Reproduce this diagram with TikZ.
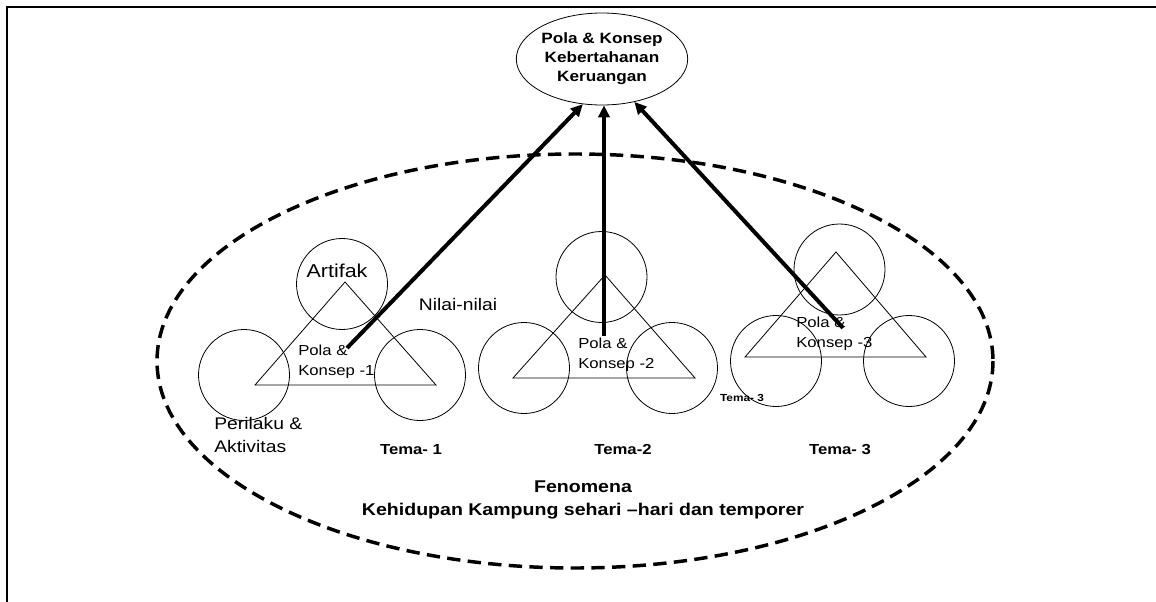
\documentclass[tikz,border=0pt]{standalone}
\usepackage{fontspec}
\setmainfont{Liberation Sans}[FakeStretch=1.15]
\usetikzlibrary{arrows.meta,shapes.geometric,positioning}

\tikzset{
  ring/.style={draw,circle,line width=0.6pt,minimum size=68.25pt,inner sep=0pt},
  tri/.style={draw,line width=0.6pt},
  lbl/.style={inner sep=0pt,align=left,anchor=west,font=\fontsize{10.9pt}{15pt}\selectfont},
  tema/.style={inner sep=0pt,font=\bfseries\fontsize{10.9pt}{13pt}\selectfont},
  up/.style={line width=3pt,-{Triangle[length=9pt,width=8.5pt]}},
}

\begin{document}
\begin{tikzpicture}[x=0.75pt,y=-0.75pt]
    \useasboundingbox (0,0) rectangle (1156,602);
    % frame, top and left only
    \draw[line width=1.5pt] (7,602) -- (7,7) -- (1156,7);

    % goal on top
    \node[draw,ellipse,line width=0.6pt,minimum width=100pt,minimum height=69pt,inner sep=0pt,
          align=center,font=\bfseries\fontsize{11.2pt}{14.25pt}\selectfont] (top) at (602,59)
          {Pola \& Konsep\\Kebertahanan\\Keruangan};

    % phenomenon, dashed ellipse
    \draw[line width=2.6pt,dash pattern=on 10pt off 5.5pt] (575,361) ellipse [x radius=418,y radius=207];

    % tema 1
    \node[ring] (t1a) at (342,284) {};
    \node[ring] (t1b) at (244,375) {};
    \node[ring] (t1c) at (420,375) {};
    \draw[tri] (345,282) -- (255,385) -- (436,385) -- cycle;
    \node[inner sep=0pt,font=\fontsize{14pt}{16pt}\selectfont] (art) at (337,271) {Artifak};
    \node[inner sep=0pt,font=\fontsize{12.6pt}{15pt}\selectfont] (nilai) at (458,304) {Nilai-nilai};
    \node[lbl,font=\fontsize{12.6pt}{17.25pt}\selectfont] (perilaku) at (214,435) {Perilaku \&\\Aktivitas};
    \node[lbl] (pk1) at (298,362) {Pola \&\\Konsep -1};
    \node[tema] (tema1) at (411,450) {Tema- 1};

    % tema 2
    \node[ring] (t2a) at (601.5,277) {};
    \node[ring] (t2b) at (524,368) {};
    \node[ring] (t2c) at (672,368) {};
    \draw[tri] (605,275) -- (513,378) -- (695,378) -- cycle;
    \node[lbl] (pk2) at (578,355) {Pola \&\\Konsep -2};
    \node[tema] (tema2) at (623,449) {Tema-2};
    \node[tema,font=\bfseries\fontsize{7.7pt}{9pt}\selectfont] (tema3s) at (742,398) {Tema- 3};

    % tema 3
    \node[ring] (t3a) at (839.5,269.5) {};
    \node[ring] (t3b) at (776,361) {};
    \node[ring] (t3c) at (909,361) {};
    \draw[tri] (836,252) -- (745,357) -- (926,357) -- cycle;
    \node[lbl] (pk3) at (796,334) {Pola \&\\Konsep -3};
    \node[tema] (tema3) at (840,450) {Tema- 3};

    % fenomena caption
    \node[align=center,inner sep=0pt,font=\bfseries\fontsize{12.75pt}{17.25pt}\selectfont] (fen) at (583,499.5)
          {Fenomena\\Kehidupan Kampung sehari --hari dan temporer};

    % arrows up to the goal
    \coordinate (p1) at (347,348);
    \coordinate (p2) at (604,336);
    \coordinate (p3) at (843,328);
    \draw[up] (p1) -- (top.-113);
    \draw[up] (p2) -- (p2 |- top.south);
    \draw[up] (p3) -- (top.-53);
\end{tikzpicture}
\end{document}
